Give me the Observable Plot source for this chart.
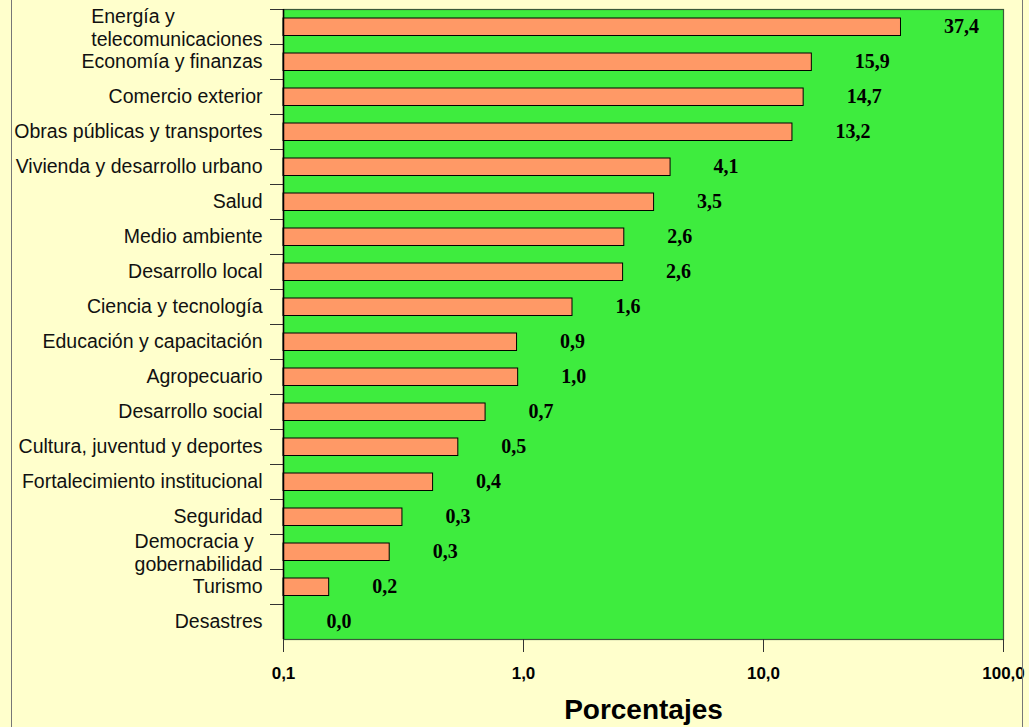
<!DOCTYPE html>
<html>
<head>
<meta charset="utf-8">
<script src="https://cdn.jsdelivr.net/npm/d3@7"></script>
<script src="https://cdn.jsdelivr.net/npm/@observablehq/plot@0.6"></script>
<style>
  html, body { margin: 0; padding: 0; background: #ffffcc; }
  #wrap { position: relative; width: 1029px; height: 727px; overflow: hidden; }
  #border { position: absolute; left: 11px; top: -5px; width: 1010px; height: 740px;
            border-left: 1px solid #777; border-right: 1px solid #777; pointer-events: none; }
</style>
</head>
<body>
<div id="wrap"><div id="chart"></div><div id="border"></div></div>
<script>
const categories = [
  "Energía y\ntelecomunicaciones",
  "Economía y finanzas",
  "Comercio exterior",
  "Obras públicas y transportes",
  "Vivienda y desarrollo urbano",
  "Salud",
  "Medio ambiente",
  "Desarrollo local",
  "Ciencia y tecnología",
  "Educación y capacitación",
  "Agropecuario",
  "Desarrollo social",
  "Cultura, juventud y deportes",
  "Fortalecimiento institucional",
  "Seguridad",
  "Democracia y \ngobernabilidad",
  "Turismo",
  "Desastres"
];
const values = [37.4, 15.9, 14.7, 13.2, 4.1, 3.5, 2.63, 2.6, 1.6, 0.94, 0.95, 0.695, 0.535, 0.42, 0.313, 0.277, 0.155, 0];
const valueLabels = ["37,4", "15,9", "14,7", "13,2", "4,1", "3,5", "2,6", "2,6", "1,6", "0,9", "1,0", "0,7", "0,5", "0,4", "0,3", "0,3", "0,2", "0,0"];
const xTicks = [0.1, 1, 10, 100];
const xTickLabels = ["0,1", "1,0", "10,0", "100,0"];
const xTitle = "Porcentajes";

const data = categories.map((c, i) => ({cat: c, v: values[i], lab: valueLabels[i]}));
const FLOOR = xTicks[0];

const SANS = "'Liberation Sans', Arial, sans-serif";
const CAT_SIZE = 19.5;
const ctx = document.createElement("canvas").getContext("2d");
ctx.font = CAT_SIZE + "px " + SANS;
const lineWidth = s => Math.max(...s.split("\n").map(l => ctx.measureText(l.trimEnd()).width));

const single = data.filter(d => !d.cat.includes("\n"));
const multi = data.filter(d => d.cat.includes("\n"));

const multiMarks = multi.map(d => Plot.text([d], {
  x: () => FLOOR, y: "cat", text: "cat",
  textAnchor: "start", dx: -(21 + lineWidth(d.cat)),
  lineHeight: 1.18, fontSize: CAT_SIZE, fontFamily: SANS, fill: "#111"
}));

const chart = Plot.plot({
  width: 1029,
  height: 727,
  marginLeft: 283,
  marginRight: 26,
  marginTop: 9,
  marginBottom: 88,
  style: {background: "transparent", color: "black", fontFamily: SANS},
  x: {type: "log", domain: [0.1, 100]},
  y: {domain: categories, padding: 0},
  marks: [
    Plot.frame({fill: "#3eec3e", stroke: "#3a5a3a", strokeWidth: 1.2}),
    Plot.barX(data.filter(d => d.v >= FLOOR), {
      x1: () => FLOOR, x2: "v", y: "cat",
      fill: "#ff9966", stroke: "black", strokeWidth: 1,
      insetTop: 9, insetBottom: 8.5
    }),
    Plot.text(data, {
      x: d => Math.max(d.v, FLOOR), y: "cat", text: "lab",
      textAnchor: "start", dx: 43,
      fontFamily: "'Liberation Serif', 'Times New Roman', serif", fontWeight: "bold", fontSize: 20, fill: "black"
    }),
    Plot.axisY({tickSize: 13, tickFormat: () => "", dy: -17.5, stroke: "#333", label: null}),
    Plot.text(single, {
      x: () => FLOOR, y: "cat", text: "cat",
      textAnchor: "end", dx: -21,
      fontSize: CAT_SIZE, fontFamily: SANS, fill: "#111"
    }),
    ...multiMarks,
    Plot.ruleX([FLOOR], {stroke: "black", strokeWidth: 1.5}),
    Plot.axisX({
      ticks: xTicks, tickSize: 13, tickPadding: 14,
      tickFormat: d => xTickLabels[xTicks.indexOf(d)],
      fontSize: 17, fontWeight: "bold", label: null, stroke: "#333"
    }),
    Plot.axisX({ticks: [], tickSize: 0, label: null, line: true, strokeWidth: 1.5}),
    Plot.text([xTitle], {
      frameAnchor: "bottom", text: d => d, dy: 71, lineAnchor: "middle",
      fontSize: 28, fontWeight: "bold", fill: "black"
    })
  ]
});
document.getElementById("chart").appendChild(chart);
</script>
</body>
</html>
